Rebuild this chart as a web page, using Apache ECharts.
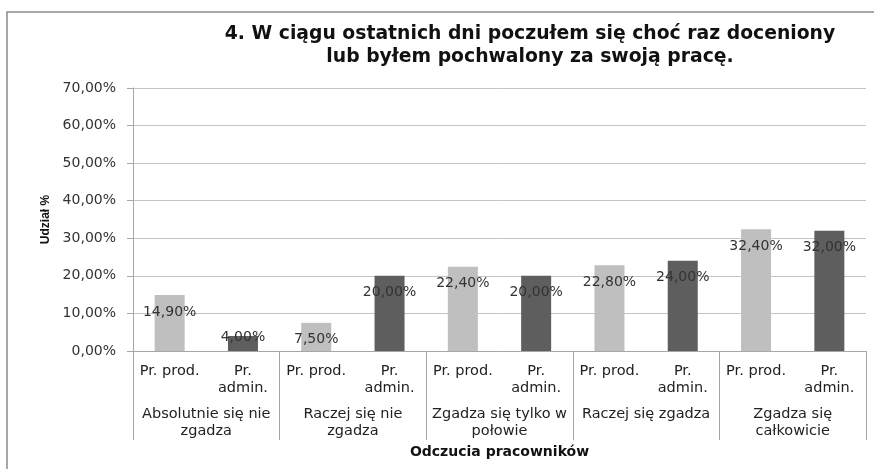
<!DOCTYPE html>
<html>
<head>
<meta charset="utf-8">
<script src="https://cdn.jsdelivr.net/npm/echarts@6/dist/echarts.min.js"></script>
<style>
  html, body { margin: 0; padding: 0; background: #fff; }
  #chart { width: 874px; height: 469px; }
</style>
</head>
<body>
<div id="chart"></div>
<script>
// DATA
var groups = ['Absolutnie się nie\nzgadza', 'Raczej się nie\nzgadza', 'Zgadza się tylko w\npołowie', 'Raczej się zgadza', 'Zgadza się\ncałkowicie']
var workers = ['Pr. prod.', 'Pr.\nadmin.']
var prod = [14.9, 7.5, 22.4, 22.8, 32.4]
var admin = [4.0, 20.0, 20.0, 24.0, 32.0]
var yTicks = [0, 10, 20, 30, 40, 50, 60, 70]
var titleText = '4. W ciągu ostatnich dni poczułem się choć raz doceniony\nlub byłem pochwalony za swoją pracę.'

function pct(v) { return v.toFixed(2).replace('.', ',') + '%' }

// every group has one prod and one admin column
var cats = []
var prodData = []
var adminData = []
groups.forEach(function (g, i) {
    cats.push(workers[0], workers[1])
    prodData.push(prod[i], null)
    adminData.push(null, admin[i])
})

function barLabel(v) {
    return {
        show: true,
        position: 'insideTop',
        distance: v < 6 ? -6 : 10,
        formatter: function (p) { return pct(p.value) },
        fontFamily: 'DejaVu Sans',
        fontSize: 14,
        color: '#333'
    }
}
function items(arr) {
    return arr.map(function (v) {
        return v === null ? null : { value: v, label: barLabel(v) }
    })
}

var chart = echarts.init(document.getElementById('chart'))
chart.setOption({
    animation: false,
    graphic: [{
        type: 'rect',
        shape: { x: 7, y: 12, width: 900, height: 500 },
        style: { fill: 'none', stroke: '#8c8c8c', lineWidth: 1.5 },
        silent: true
    }, {
        type: 'text',
        x: 530,
        y: 23,
        silent: true,
        style: {
            text: titleText,
            align: 'center',
            verticalAlign: 'top',
            fontFamily: 'DejaVu Sans',
            fontWeight: 'bold',
            fontSize: 18.8,
            lineHeight: 23,
            fill: '#111'
        }
    }],
    grid: { left: 133, right: 8, top: 88, bottom: 118 },
    xAxis: [{
        type: 'category',
        data: cats,
        axisLine: { lineStyle: { color: '#a6a6a6' } },
        axisTick: { show: false },
        axisLabel: { interval: 0, margin: 12, fontFamily: 'DejaVu Sans', fontSize: 14.5, lineHeight: 17, color: '#222' }
    }, {
        type: 'category',
        position: 'bottom',
        data: groups,
        axisLine: { show: false },
        axisTick: { show: true, length: 89, interval: 0, lineStyle: { color: '#a6a6a6' } },
        axisLabel: { interval: 0, margin: 55, fontFamily: 'DejaVu Sans', fontSize: 14.5, lineHeight: 17, color: '#222' },
        name: 'Odczucia pracowników',
        nameLocation: 'middle',
        nameGap: 93,
        nameTextStyle: { fontFamily: 'DejaVu Sans', fontWeight: 'bold', fontSize: 14, color: '#111' }
    }],
    yAxis: {
        type: 'value',
        min: yTicks[0],
        max: yTicks[yTicks.length - 1],
        interval: 10,
        axisLine: { show: true, lineStyle: { color: '#a6a6a6' } },
        axisTick: { show: true, length: 6, lineStyle: { color: '#a6a6a6' } },
        splitLine: { lineStyle: { color: '#c4c4c4' } },
        axisLabel: { margin: 17, formatter: pct, fontFamily: 'DejaVu Sans', fontSize: 14, color: '#333' },
        name: 'Udział %',
        nameLocation: 'middle',
        nameRotate: 90,
        nameGap: 80,
        nameTextStyle: { fontFamily: 'Liberation Sans', fontWeight: 'bold', fontSize: 12, color: '#111' }
    },
    series: [{
        name: 'Pr. prod.',
        type: 'bar',
        barWidth: 30,
        barGap: '-100%',
        itemStyle: { color: '#bfbfbf' },
        data: items(prodData)
    }, {
        name: 'Pr. admin.',
        type: 'bar',
        barWidth: 30,
        barGap: '-100%',
        itemStyle: { color: '#5e5e5e' },
        data: items(adminData)
    }]
})
</script>
</body>
</html>
